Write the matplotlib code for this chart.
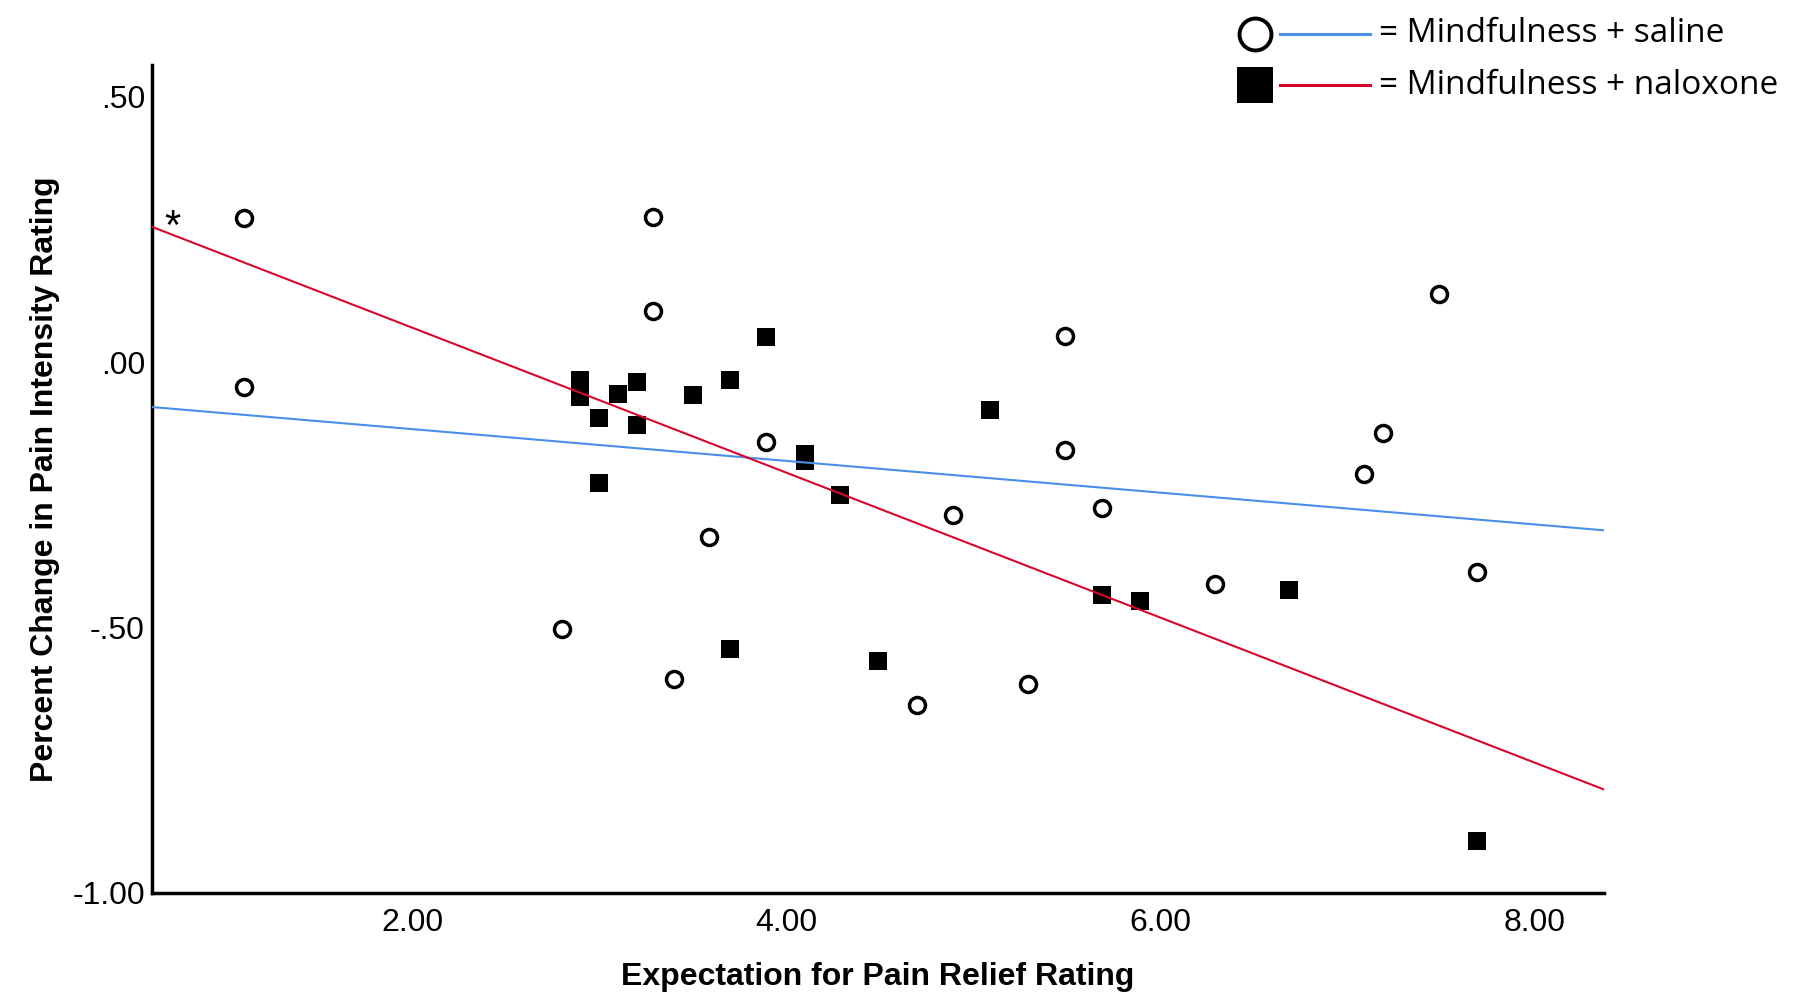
#!/usr/bin/env python3
"""Expectation for pain relief vs percent change in pain intensity."""
import numpy as np
import matplotlib
matplotlib.use("Agg")
import matplotlib.pyplot as plt
from matplotlib.lines import Line2D

plt.rcParams["font.family"] = ["Liberation Sans", "DejaVu Sans"]

# Mindfulness + saline (open circles)
saline_x = [1.10, 1.10, 3.29, 3.29, 2.80, 3.40, 3.59, 3.89, 4.70, 4.89,
            5.29, 5.49, 5.49, 5.69, 6.29, 7.09, 7.19, 7.49, 7.69]
saline_y = [0.272, -0.047, 0.274, 0.097, -0.503, -0.596, -0.330, -0.151, -0.645, -0.287,
            -0.606, 0.049, -0.166, -0.275, -0.417, -0.211, -0.134, 0.129, -0.396]

# Mindfulness + naloxone (filled squares)
nalox_x = [2.90, 2.90, 3.10, 3.20, 3.00, 3.20, 3.50, 3.70, 3.89, 4.10,
           4.10, 3.00, 4.29, 3.70, 4.49, 5.09, 5.69, 5.89, 6.69, 7.69]
nalox_y = [-0.034, -0.065, -0.060, -0.038, -0.105, -0.119, -0.062, -0.033, 0.047, -0.173,
           -0.187, -0.227, -0.251, -0.540, -0.563, -0.090, -0.439, -0.450, -0.430, -0.902]

x_ticks = [2.0, 4.0, 6.0, 8.0]
x_tick_labels = ["2.00", "4.00", "6.00", "8.00"]
y_ticks = [0.5, 0.0, -0.5, -1.0]
y_tick_labels = [".50", ".00", "-.50", "-1.00"]

XLIM = (0.61, 8.37)
YLIM = (-1.0, 0.56)
BLUE = "#4A8FE7"
RED = "#D8062E"

fig = plt.figure(figsize=(18, 10), dpi=100)
ax = fig.add_axes([0.0844, 0.107, 0.8066, 0.828])

ax.plot(saline_x, saline_y, linestyle="none", marker="o", markersize=11.5,
        markerfacecolor="white", markeredgecolor="black", markeredgewidth=2.5, zorder=2)
ax.plot(nalox_x, nalox_y, linestyle="none", marker="s", markersize=13.5,
        markerfacecolor="black", markeredgecolor="black", markeredgewidth=0, zorder=2)

# fit lines across the full x range
xx = np.array(XLIM)
for xs, ys, col in [(saline_x, saline_y, BLUE), (nalox_x, nalox_y, RED)]:
    b, a = np.polyfit(xs, ys, 1)
    ax.plot(xx, a + b * xx, color=col, linewidth=1.5, zorder=3)

ax.text(0.72, 0.252, "*", fontsize=30, ha="center", va="center")

ax.set_xlim(*XLIM)
ax.set_ylim(*YLIM)
ax.set_xticks(x_ticks)
ax.set_xticklabels(x_tick_labels)
ax.set_yticks(y_ticks)
ax.set_yticklabels(y_tick_labels)
ax.tick_params(axis="both", length=0, labelsize=23)
ax.tick_params(axis="x", pad=11)
ax.tick_params(axis="y", pad=5)
for side in ("top", "right"):
    ax.spines[side].set_visible(False)
for side in ("left", "bottom"):
    ax.spines[side].set_linewidth(2.5)

ax.set_xlabel("Expectation for Pain Relief Rating", fontsize=23, fontweight="bold", labelpad=17)
ax.set_ylabel("Percent Change in Pain Intensity Rating", fontsize=23, fontweight="bold", labelpad=9)

# legend drawn by hand in the top-right corner
rows = [(0.966, "o", "white", BLUE, "= Mindfulness + saline"),
        (0.915, "s", "black", RED, "= Mindfulness + naloxone")]
for y, mk, fc, col, label in rows:
    fig.add_artist(Line2D([0.697], [y], marker=mk, markersize=26 if mk == "s" else 23,
                          markerfacecolor=fc, markeredgecolor="black",
                          markeredgewidth=2.8 if mk == "o" else 0, linestyle="none",
                          transform=fig.transFigure))
    fig.add_artist(Line2D([0.711, 0.761], [y, y], color=col, linewidth=2.2,
                          transform=fig.transFigure))
    fig.text(0.766, y, label, fontsize=24, family=["Open Sans", "DejaVu Sans"],
             ha="left", va="center")

fig.savefig("out.png", dpi=100, facecolor="white")
